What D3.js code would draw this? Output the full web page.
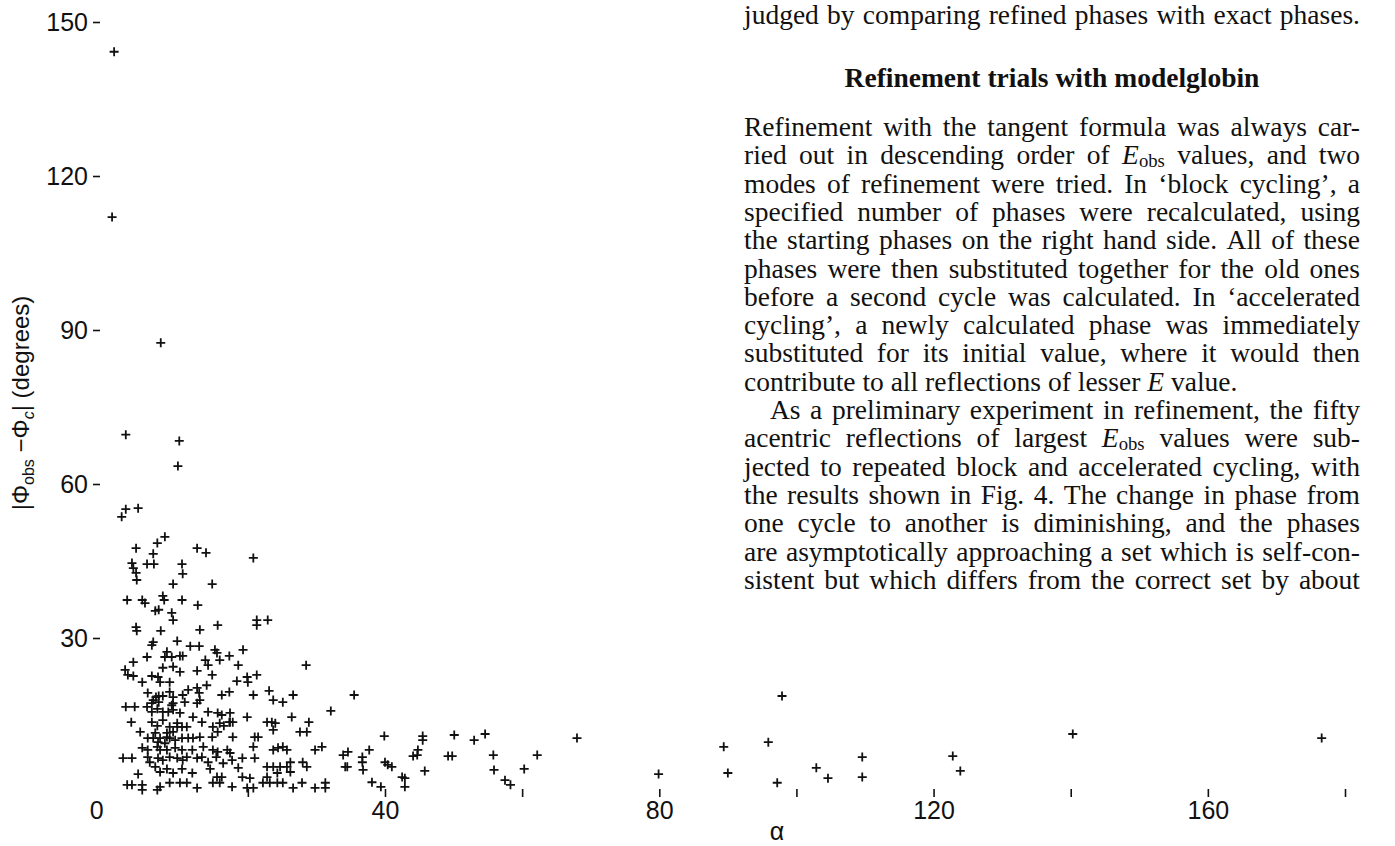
<!DOCTYPE html>
<html>
<head>
<meta charset="utf-8">
<script src="https://cdn.jsdelivr.net/npm/d3@7"></script>
<style>
  html, body { margin: 0; padding: 0; background: #fff; }
  svg { display: block; }
</style>
</head>
<body>
<svg id="page" width="1395" height="846"></svg>
<script>
// Phase error |phi_obs - phi_c| (degrees) against alpha, one entry per reflection
const alphaValues = [
  0.5, 0.2, 7.3, 2.2, 10.0, 9.8, 2.2, 1.6, 4.0, 7.9, 6.8, 3.7, 12.6, 13.9, 6.2, 20.8,
  3.1, 3.3, 3.7, 3.8, 5.3, 6.3, 10.4, 10.5, 9.1, 14.8, 2.4, 4.6, 5.0, 7.6, 7.8, 10.4,
  12.7, 6.5, 7.0, 8.9, 9.1, 21.3, 22.9, 21.3, 3.7, 3.8, 7.3, 13.0, 15.6, 6.2, 6.0, 9.7,
  11.6, 12.9, 5.3, 8.2, 7.9, 8.9, 10.1, 10.5, 15.2, 15.5, 15.9, 17.3, 19.3, 13.8, 14.2, 3.3,
  18.6, 28.5, 2.1, 2.5, 3.3, 7.6, 9.1, 10.1, 12.6, 14.8, 6.0, 6.9, 4.6, 8.6, 7.2, 18.4,
  19.9, 20.0, 21.3, 5.4, 6.6, 7.0, 7.6, 9.1, 8.6, 10.5, 11.3, 12.9, 13.0, 12.6, 14.0, 16.2,
  17.3, 20.8, 23.1, 23.7, 25.1, 26.6, 6.2, 7.0, 9.1, 10.8, 12.6, 6.0, 2.2, 3.5, 5.3, 6.0,
  6.8, 7.6, 8.4, 8.9, 9.1, 10.1, 12.0, 13.3, 14.2, 15.6, 16.2, 17.4, 17.8, 17.3, 19.9, 22.8,
  23.5, 24.0, 23.7, 26.4, 28.9, 32.1, 3.0, 6.0, 6.8, 7.6, 8.6, 9.7, 10.4, 11.1, 9.7, 4.3,
  6.5, 8.2, 9.1, 14.9, 15.9, 15.6, 16.5, 17.4, 27.6, 28.6, 5.4, 6.2, 7.2, 8.2, 8.6, 9.4,
  10.4, 11.3, 12.0, 13.0, 6.9, 7.9, 14.8, 17.8, 21.0, 21.5, 4.6, 5.4, 6.8, 7.2, 8.2, 9.4,
  10.4, 11.9, 13.5, 14.9, 15.6, 17.0, 17.4, 20.8, 23.7, 24.4, 25.1, 25.7, 29.8, 30.8, 33.9, 34.6,
  1.8, 3.1, 5.4, 5.7, 6.9, 7.6, 8.6, 9.7, 10.5, 11.1, 12.6, 13.3, 14.2, 15.4, 16.4, 17.7,
  19.2, 21.0, 22.8, 23.7, 24.7, 25.7, 26.2, 28.0, 28.6, 34.2, 4.0, 6.5, 7.2, 8.2, 9.1, 10.4,
  11.9, 14.5, 15.5, 16.2, 18.6, 19.2, 20.3, 22.8, 24.3, 26.2, 2.4, 3.1, 4.6, 4.6, 7.2, 6.8,
  8.6, 10.1, 11.1, 12.6, 14.9, 15.9, 17.7, 19.9, 20.8, 22.2, 23.2, 24.3, 25.1, 26.6, 27.9, 29.8,
  31.3, 31.3, 34.5, 36.7, 36.7, 36.8, 37.7, 39.9, 40.0, 40.4, 41.0, 38.1, 39.4, 42.5, 42.9, 42.9,
  45.5, 45.5, 44.8, 44.7, 44.1, 45.8, 49.2, 49.8, 50.1, 53.0, 54.6, 55.8, 55.9, 57.5, 58.3, 60.3,
  62.2, 68.0, 79.9, 97.9, 89.4, 95.9, 90.0, 97.2, 102.9, 104.6, 109.6, 109.6, 122.8, 123.9, 140.3, 176.6,
  35.5
];
const phaseErrors = [
  144.2, 112.0, 87.5, 69.6, 68.4, 63.5, 55.1, 53.6, 55.3, 49.7, 48.5, 47.5, 47.5, 46.6, 46.4, 45.6,
  44.6, 43.6, 42.7, 41.3, 44.4, 44.4, 44.4, 42.5, 40.5, 40.5, 37.4, 37.4, 36.8, 38.2, 37.4, 37.4,
  36.4, 35.3, 35.5, 34.9, 33.5, 33.5, 33.5, 32.5, 32.1, 31.4, 31.4, 31.6, 32.5, 29.2, 28.6, 29.4,
  28.4, 28.4, 26.3, 27.3, 26.3, 26.3, 26.5, 26.5, 27.7, 27.1, 25.7, 26.5, 27.7, 25.7, 24.7, 25.3,
  24.7, 24.7, 23.8, 22.8, 22.6, 24.2, 24.4, 23.4, 23.6, 22.8, 22.6, 22.4, 21.4, 21.4, 21.4, 21.6,
  22.4, 21.4, 22.8, 19.3, 18.5, 18.7, 18.7, 18.5, 19.5, 18.9, 19.9, 19.3, 17.9, 20.3, 20.8, 18.9,
  19.5, 18.9, 19.7, 17.9, 17.5, 18.9, 17.9, 17.5, 17.3, 17.5, 17.3, 17.3, 16.6, 16.6, 16.6, 15.6,
  16.2, 15.6, 15.6, 16.9, 16.0, 15.4, 14.6, 13.6, 15.6, 15.4, 15.0, 15.4, 13.6, 13.6, 14.6, 13.6,
  13.6, 13.4, 12.1, 14.6, 13.6, 15.8, 13.6, 13.6, 12.9, 14.0, 12.7, 12.7, 12.7, 12.7, 13.4, 11.7,
  11.5, 11.5, 11.7, 12.7, 13.4, 11.7, 12.9, 13.6, 11.7, 11.7, 10.5, 10.5, 10.5, 10.7, 10.5, 10.1,
  10.5, 10.5, 10.5, 10.7, 9.7, 9.5, 10.7, 10.7, 10.7, 10.7, 8.6, 8.2, 8.8, 8.2, 8.2, 8.6,
  8.2, 8.2, 8.8, 8.2, 7.8, 8.2, 7.6, 8.8, 8.2, 8.6, 8.8, 8.2, 8.2, 8.8, 7.2, 7.8,
  6.6, 6.6, 6.8, 5.8, 6.6, 6.2, 6.8, 6.6, 6.2, 6.8, 6.6, 6.8, 5.8, 6.8, 5.6, 6.2,
  6.6, 6.6, 4.9, 4.9, 4.9, 4.9, 5.8, 5.8, 4.9, 4.9, 3.5, 4.9, 3.9, 4.5, 3.7, 4.5,
  3.7, 4.5, 2.9, 2.9, 4.7, 2.9, 2.7, 2.9, 3.7, 3.9, 1.4, 1.4, 1.4, 0.4, 1.0, 0.4,
  1.8, 1.8, 1.8, 0.8, 1.8, 1.8, 1.0, 0.8, 0.8, 1.8, 1.8, 1.8, 1.8, 0.8, 1.8, 0.8,
  1.8, 0.8, 4.9, 6.8, 5.8, 4.3, 8.2, 10.9, 5.8, 5.3, 4.9, 1.9, 1.0, 2.9, 2.7, 1.0,
  10.9, 10.1, 8.2, 7.2, 7.0, 4.1, 7.0, 7.0, 11.1, 10.1, 11.3, 7.2, 4.3, 2.3, 1.4, 4.5,
  7.2, 10.5, 3.5, 18.7, 8.8, 9.7, 3.7, 1.8, 4.7, 2.7, 6.8, 2.9, 7.0, 4.1, 11.3, 10.5,
  18.9
];

// Axis ticks and labels
const yTickValues = [30, 60, 90, 120, 150];
const xTickValues = [20, 40, 60, 80, 100, 120, 140, 160, 180];
const xLabelledTicks = [40, 80, 120, 160];
const originLabel = "0";
const xTitle = "α";

// Accompanying column of text (*...* italic, _..._ subscript)
const leadLine = "judged by comparing refined phases with exact phases.";
const headingText = "Refinement trials with modelglobin";
const bodyLines = [
  "Refinement with the tangent formula was always car-",
  "ried out in descending order of *E*_obs_ values, and two",
  "modes of refinement were tried. In ‘block cycling’, a",
  "specified number of phases were recalculated, using",
  "the starting phases on the right hand side. All of these",
  "phases were then substituted together for the old ones",
  "before a second cycle was calculated. In ‘accelerated",
  "cycling’, a newly calculated phase was immediately",
  "substituted for its initial value, where it would then",
  "contribute to all reflections of lesser *E* value.",
  "As a preliminary experiment in refinement, the fifty",
  "acentric reflections of largest *E*_obs_ values were sub-",
  "jected to repeated block and accelerated cycling, with",
  "the results shown in Fig. 4. The change in phase from",
  "one cycle to another is diminishing, and the phases",
  "are asymptotically approaching a set which is self-con-",
  "sistent but which differs from the correct set by about"
];
const raggedLines = [9];
const indentedLines = [10];

const svg = d3.select("#page");
const ink = "#111";
const sans = "'Liberation Sans', Arial, Helvetica, sans-serif";
const serif = "'Liberation Serif', 'Times New Roman', Times, serif";

// ---- scatter plot ----
const x = d3.scaleLinear().domain([0, 180]).range([110.7, 1345]);
const y = d3.scaleLinear().domain([0, 150]).range([792, 22]);

const yAxis = d3.axisLeft(y)
  .tickValues(yTickValues)
  .tickSize(7)
  .tickPadding(5)
  .tickFormat(d3.format("d"));
svg.append("g")
  .attr("transform", "translate(100,0)")
  .call(yAxis)
  .call(g => g.select(".domain").remove())
  .call(g => g.selectAll("line").attr("stroke", ink).attr("stroke-width", 1.6))
  .call(g => g.selectAll("text").attr("fill", ink).style("font-family", sans).style("font-size", "25px"));

const xAxis = d3.axisBottom(x)
  .tickValues(xTickValues)
  .tickSize(8)
  .tickPadding(4)
  .tickFormat(d => xLabelledTicks.includes(d) ? d3.format("d")(d) : "");
svg.append("g")
  .attr("transform", `translate(0,${y(0) - 3})`)
  .call(xAxis)
  .call(g => g.select(".domain").remove())
  .call(g => g.selectAll("line").attr("stroke", ink).attr("stroke-width", 1.6))
  .call(g => g.selectAll("text").attr("fill", ink).style("font-family", sans).style("font-size", "25px"));

svg.append("text")
  .attr("x", x(0) - 14)
  .attr("y", y(0) + 27)
  .attr("text-anchor", "middle")
  .attr("fill", ink)
  .style("font-family", sans).style("font-size", "25px")
  .text(originLabel);

svg.append("text")
  .attr("x", 777)
  .attr("y", 840)
  .attr("text-anchor", "middle")
  .attr("fill", ink)
  .style("font-family", sans).style("font-size", "25px")
  .text(xTitle);

// y-axis title |Φobs −Φc| (degrees), reading upwards
const yTitle = svg.append("text")
  .attr("transform", "translate(29,403) rotate(-90)")
  .attr("text-anchor", "middle")
  .attr("fill", ink)
  .style("font-family", sans).style("font-size", "24px");
yTitle.append("tspan").text("|Φ");
yTitle.append("tspan").attr("dy", 5).style("font-size", "16px").text("obs");
yTitle.append("tspan").attr("dy", -5).text(" −Φ");
yTitle.append("tspan").attr("dy", 5).style("font-size", "16px").style("font-style", "italic").text("c");
yTitle.append("tspan").attr("dy", -5).text("| (degrees)");

// plus-sign markers
const points = alphaValues.map((a, i) => ({ a, p: phaseErrors[i] }));
const arm = 4.5;
svg.append("g")
  .attr("stroke", ink)
  .attr("stroke-width", 1.8)
  .attr("fill", "none")
  .selectAll("path")
  .data(points)
  .join("path")
  .attr("d", d => {
    const cx = x(d.a), cy = y(d.p);
    return `M${cx - arm},${cy}H${cx + arm}M${cx},${cy - arm}V${cy + arm}`;
  });

// ---- text column ----
const colLeft = 744, colWidth = 616, bodySize = 27.5;

function addWord(g, word, yPos, weight) {
  const t = g.append("text")
    .attr("y", yPos)
    .attr("fill", ink)
    .style("font-family", serif)
    .style("font-size", bodySize + "px")
    .style("font-weight", weight || "normal");
  const parts = word.split(/(\*[^*]+\*|_[^_]+_)/).filter(s => s.length);
  parts.forEach(s => {
    if (s.startsWith("*")) {
      t.append("tspan").style("font-style", "italic").text(s.slice(1, -1));
    } else if (s.startsWith("_")) {
      // subscript drawn as a separate lowered run
      t.append("tspan").attr("dy", 3).style("font-size", (bodySize * 0.68) + "px").text(s.slice(1, -1));
    } else {
      t.append("tspan").text(s);
    }
  });
  return t;
}

function setLine(str, yPos, opts) {
  const g = svg.append("g");
  const left = colLeft + (opts.indent || 0);
  const width = colWidth - (opts.indent || 0);
  const words = str.split(" ");
  const nodes = words.map(w => addWord(g, w, yPos, opts.weight));
  const widths = nodes.map(n => n.node().getComputedTextLength());
  const total = d3.sum(widths);
  const naturalGap = bodySize * 0.25;
  const gap = opts.justify ? (width - total) / (words.length - 1) : naturalGap;
  let start = left;
  if (opts.center) start = colLeft + (colWidth - (total + naturalGap * (words.length - 1))) / 2;
  let cx = start;
  nodes.forEach((n, i) => { n.attr("x", cx); cx += widths[i] + gap; });
}

setLine(leadLine, 24, { justify: true });
setLine(headingText, 87, { center: true, weight: "bold" });
bodyLines.forEach((line, i) => {
  setLine(line, 136 + i * 28.3, {
    justify: !raggedLines.includes(i),
    indent: indentedLines.includes(i) ? 26 : 0
  });
});
</script>
</body>
</html>
